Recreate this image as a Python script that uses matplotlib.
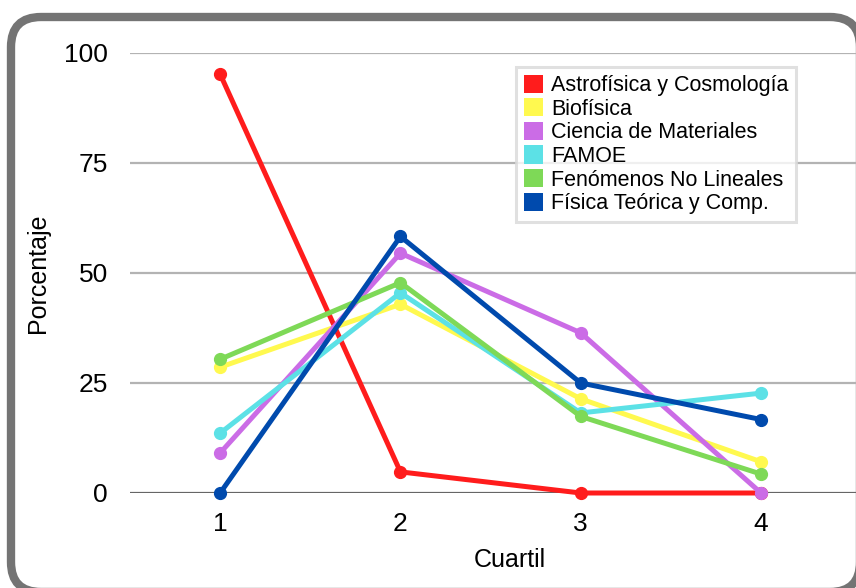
import matplotlib
matplotlib.use("Agg")
import matplotlib.pyplot as plt
from matplotlib.patches import FancyBboxPatch, Patch
from matplotlib.transforms import IdentityTransform

plt.rcParams['font.family'] = ['Liberation Sans', 'DejaVu Sans']

# Datos
cuartiles = [1, 2, 3, 4]
areas = ["Astrofísica y Cosmología", "Biofísica", "Ciencia de Materiales",
         "FAMOE", "Fenómenos No Lineales", "Física Teórica y Comp."]
astrofisica = [95.2, 4.8, 0.0, 0.0]
biofisica = [28.6, 42.9, 21.4, 7.1]
materiales = [9.1, 54.5, 36.4, 0.0]
famoe = [13.6, 45.5, 18.2, 22.7]
no_lineales = [30.4, 47.8, 17.4, 4.3]
teorica = [0.0, 58.3, 25.0, 16.7]
series = [astrofisica, biofisica, materiales, famoe, no_lineales, teorica]
colores = ["#ff1c1c", "#fff94f", "#cb6ce6", "#5ce1e6", "#7ed957", "#004aad"]
yticks = [0, 25, 50, 75, 100]

fig = plt.figure(figsize=(8.56, 5.88), dpi=100)
ax = fig.add_axes([130 / 856, 1 - 493 / 588, 726 / 856, 440 / 588])

# Marco redondeado
marco = FancyBboxPatch((11, -4), 849, 575, boxstyle="round,pad=0,rounding_size=30",
                       transform=IdentityTransform(), facecolor="white",
                       edgecolor="#747474", linewidth=6, zorder=-10)
fig.patches.append(marco)

for y in yticks:
    ax.axhline(y, color="#666666" if y == 0 else "#b3b3b3", linewidth=1.6, zorder=1)

for vals, col in zip(series, colores):
    ax.plot(cuartiles, vals, color=col, linewidth=3.6, marker="o", markersize=8.5,
            solid_capstyle="round", clip_on=False, zorder=3)

ax.set_xlim(0.5, 0.5 + 726 / 180.3)
ax.set_ylim(0, 100)
ax.set_xticks(cuartiles)
ax.set_yticks(yticks)
ax.tick_params(length=0, labelsize=19)
ax.tick_params(axis="y", pad=16)
ax.tick_params(axis="x", pad=14)
for s in ax.spines.values():
    s.set_visible(False)
ax.patch.set_alpha(0)

fig.text(510 / 856, 1 - 560 / 588, "Cuartil", fontsize=18, ha="center", va="center")
fig.text(38 / 856, 1 - 273 / 588, "Porcentaje", fontsize=18, ha="center", va="center",
         rotation=90)

handles = [Patch(facecolor=c, edgecolor="none") for c in colores]
leg = ax.legend(handles, areas, loc="upper left", bbox_to_anchor=(516 / 856, 1 - 67 / 588),
                bbox_transform=fig.transFigure, fontsize=15.5, frameon=True, fancybox=False,
                handlelength=0.92, handleheight=0.92, handletextpad=0.35, labelspacing=0.1,
                borderpad=0.35, borderaxespad=0)
leg.get_frame().set_edgecolor("#d9d9d9")
leg.get_frame().set_linewidth(2.2)
leg.set_zorder(5)

fig.savefig("out.png", dpi=100)
